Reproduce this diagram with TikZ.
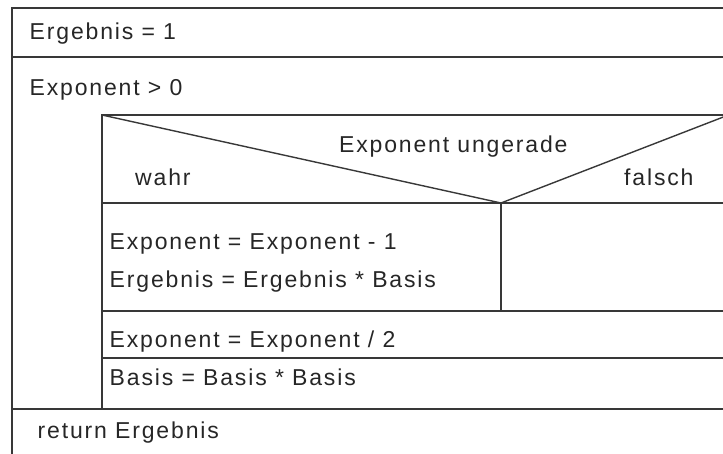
\documentclass[tikz,border=0pt]{standalone}
\usepackage{fontspec}
\setmainfont{Liberation Sans}[LetterSpace=8]
\begin{document}
\begin{tikzpicture}[x=1pt,y=-1pt,
  nsline/.style={line width=1.4pt,draw=black!78},
  nstext/.style={anchor=base west,inner sep=0pt,font=\fontsize{23}{27}\selectfont,text=black!85}]
\useasboundingbox (0,0) rectangle (723,453);
\clip (0,0) rectangle (723,453);
% frame coordinates
\coordinate (otl) at (12,8);
\coordinate (otr) at (730,8);
\coordinate (obl) at (12,460);
\coordinate (l1l) at (12,57);
\coordinate (l1r) at (730,57);
\coordinate (itl) at (102,115);
\coordinate (itr) at (730,115);
\coordinate (apex) at (728.5,115);
\coordinate (v) at (501,203);
\coordinate (bl) at (102,203);
\coordinate (br) at (730,203);
\coordinate (vb) at (501,311);
\coordinate (cl) at (102,311);
\coordinate (cr) at (730,311);
\coordinate (dl) at (102,358);
\coordinate (dr) at (730,358);
\coordinate (el) at (12,409);
\coordinate (eil) at (102,409);
\coordinate (er) at (730,409);
% lines
\draw[nsline] (obl) -- (otl) -- (otr);
\draw[nsline] (l1l) -- (l1r);
\draw[nsline] (itr) -- (itl) -- (eil);
\draw[nsline] (itl) -- (v) -- (apex);
\draw[nsline] (bl) -- (br);
\draw[nsline] (v) -- (vb);
\draw[nsline] (cl) -- (cr);
\draw[nsline] (dl) -- (dr);
\draw[nsline] (el) -- (er);
% texts
\node[nstext] (t1) at (29.5,39) {Ergebnis = 1};
\node[nstext] (t2) at (29.5,95) {Exponent > 0};
\node[nstext] (t3) at (339,152) {Exponent ungerade};
\node[nstext] (t4) at (135,185) {wahr};
\node[nstext] (t5) at (624,185) {falsch};
\node[nstext] (t6) at (109.5,249) {Exponent = Exponent - 1};
\node[nstext] (t7) at (109.5,287) {Ergebnis = Ergebnis * Basis};
\node[nstext] (t8) at (109.5,347) {Exponent = Exponent / 2};
\node[nstext] (t9) at (109.5,385) {Basis = Basis * Basis};
\node[nstext] (t10) at (37.5,438) {return Ergebnis};
\end{tikzpicture}
\end{document}
